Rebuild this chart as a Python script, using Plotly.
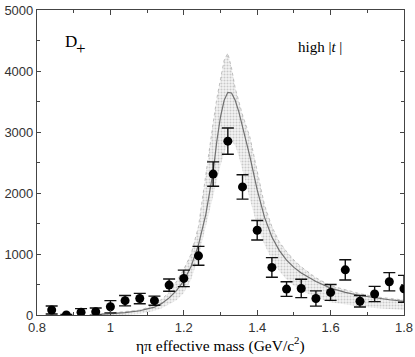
import plotly.graph_objects as go

# measured points (eta pi mass, events)
mass = [0.84, 0.88, 0.92, 0.96, 1.00, 1.04, 1.08, 1.12, 1.16, 1.20, 1.24, 1.28, 1.32,
        1.36, 1.40, 1.44, 1.48, 1.52, 1.56, 1.60, 1.64, 1.68, 1.72, 1.76, 1.80]
events = [82, 0, 45, 55, 135, 235, 270, 235, 490, 600, 970, 2310, 2850,
          2100, 1390, 780, 425, 435, 270, 370, 740, 225, 345, 545, 430]
errors = [65, 10, 60, 60, 100, 85, 85, 75, 100, 135, 155, 200, 215,
          200, 160, 160, 120, 150, 125, 130, 165, 95, 125, 150, 220]

# fit curve and band
curve_x = [0.96, 1.00, 1.04, 1.08, 1.10, 1.12, 1.14, 1.16, 1.18, 1.20, 1.22, 1.24, 1.26,
           1.27, 1.28, 1.29, 1.30, 1.31, 1.32, 1.33, 1.34, 1.35, 1.36, 1.38, 1.40, 1.42,
           1.44, 1.46, 1.48, 1.50, 1.52, 1.56, 1.60, 1.64, 1.68, 1.72, 1.76, 1.80]
band_hi = [10, 30, 55, 80, 120, 170, 260, 370, 550, 750, 1000, 1450, 2300,
           2750, 3150, 3550, 3880, 4180, 4290, 4050, 3720, 3500, 3280, 2920, 2350, 1800,
           1450, 1200, 1040, 900, 790, 610, 480, 410, 350, 300, 270, 245]
band_lo = [0, 0, 5, 15, 40, 70, 110, 170, 240, 360, 580, 950, 1450,
           1700, 1950, 2210, 2450, 2650, 2800, 2850, 2780, 2600, 2350, 1900, 1450, 1150,
           900, 720, 580, 480, 400, 290, 210, 170, 140, 115, 95, 80]
fit = [5, 20, 40, 70, 95, 130, 190, 280, 400, 560, 800, 1150, 1650,
       1980, 2350, 2850, 3250, 3520, 3650, 3640, 3520, 3330, 3100, 2600, 2050, 1600,
       1280, 1060, 900, 780, 690, 550, 440, 370, 320, 280, 250, 225]

serif = "Liberation Serif"
sans = "Liberation Sans"

fig = go.Figure()
fig.add_trace(go.Scatter(x=curve_x, y=band_lo, mode="lines", line=dict(width=0),
                         hoverinfo="skip", showlegend=False))
fig.add_trace(go.Scatter(x=curve_x, y=band_hi, mode="lines", line=dict(width=0.6, color="#9a9a9a", dash="dot"),
                         fill="tonexty", fillcolor="rgba(255,255,255,0)",
                         fillpattern=dict(shape=".", fgcolor="#a0a0a0", bgcolor="#f3f3f3",
                                          size=3, solidity=0.35),
                         hoverinfo="skip", showlegend=False))
fig.add_trace(go.Scatter(x=curve_x, y=fit, mode="lines", line=dict(width=1.2, color="#707070"),
                         hoverinfo="skip", showlegend=False))
fig.add_trace(go.Scatter(x=mass, y=events, mode="markers",
                         marker=dict(size=9, color="black"),
                         error_y=dict(type="data", array=errors, color="#111",
                                      thickness=1.4, width=6),
                         showlegend=False))

fig.add_annotation(x=0.87, y=4480, text="D", showarrow=False, xanchor="left",
                   font=dict(family=serif, size=17, color="black"))
fig.add_annotation(x=0.87, y=4480, text="+", showarrow=False, xanchor="left",
                   xshift=11, yshift=-7,
                   font=dict(family=serif, size=17, color="black"))
fig.add_annotation(x=1.57, y=4400, text="high |<i>t</i> |", showarrow=False,
                   font=dict(family=serif, size=15, color="black"))
fig.add_annotation(x=0.5, xref="paper", y=0, yref="paper", yshift=-29, yanchor="middle",
                   text="ηπ effective mass (GeV/c<sup>2</sup>)", showarrow=False,
                   font=dict(family=serif, size=15.5, color="black"))

fig.update_layout(
    width=415, height=357,
    margin=dict(l=37, r=11, t=10, b=42),
    plot_bgcolor="white", paper_bgcolor="white",
    hovermode=False,
    xaxis=dict(range=[0.8, 1.8], tickvals=[0.8, 1.0, 1.2, 1.4, 1.6, 1.8],
               ticktext=["0.8", "1", "1.2", "1.4", "1.6", "1.8"],
               ticks="inside", ticklen=5, tickcolor="#444", automargin=False,
               minor=dict(dtick=0.1, ticks="inside", ticklen=3, tickcolor="#444"),
               showline=True, linecolor="#444", linewidth=1.2, mirror="ticks",
               showgrid=False, zeroline=False,
               tickfont=dict(family=sans, size=13, color="#333")),
    yaxis=dict(range=[0, 5000], dtick=1000, automargin=False,
               ticks="inside", ticklen=4, tickcolor="#444",
               minor=dict(dtick=500, ticks="inside", ticklen=3, tickcolor="#444"),
               showline=True, linecolor="#444", linewidth=1.2, mirror="ticks",
               showgrid=False, zeroline=False,
               tickfont=dict(family=sans, size=13, color="#333")),
)

# drop the browser's default body margin so the figure sits at the page corner
fig.write_html("out.html", config={"displayModeBar": False},
               post_script="document.body.style.margin='0';")
